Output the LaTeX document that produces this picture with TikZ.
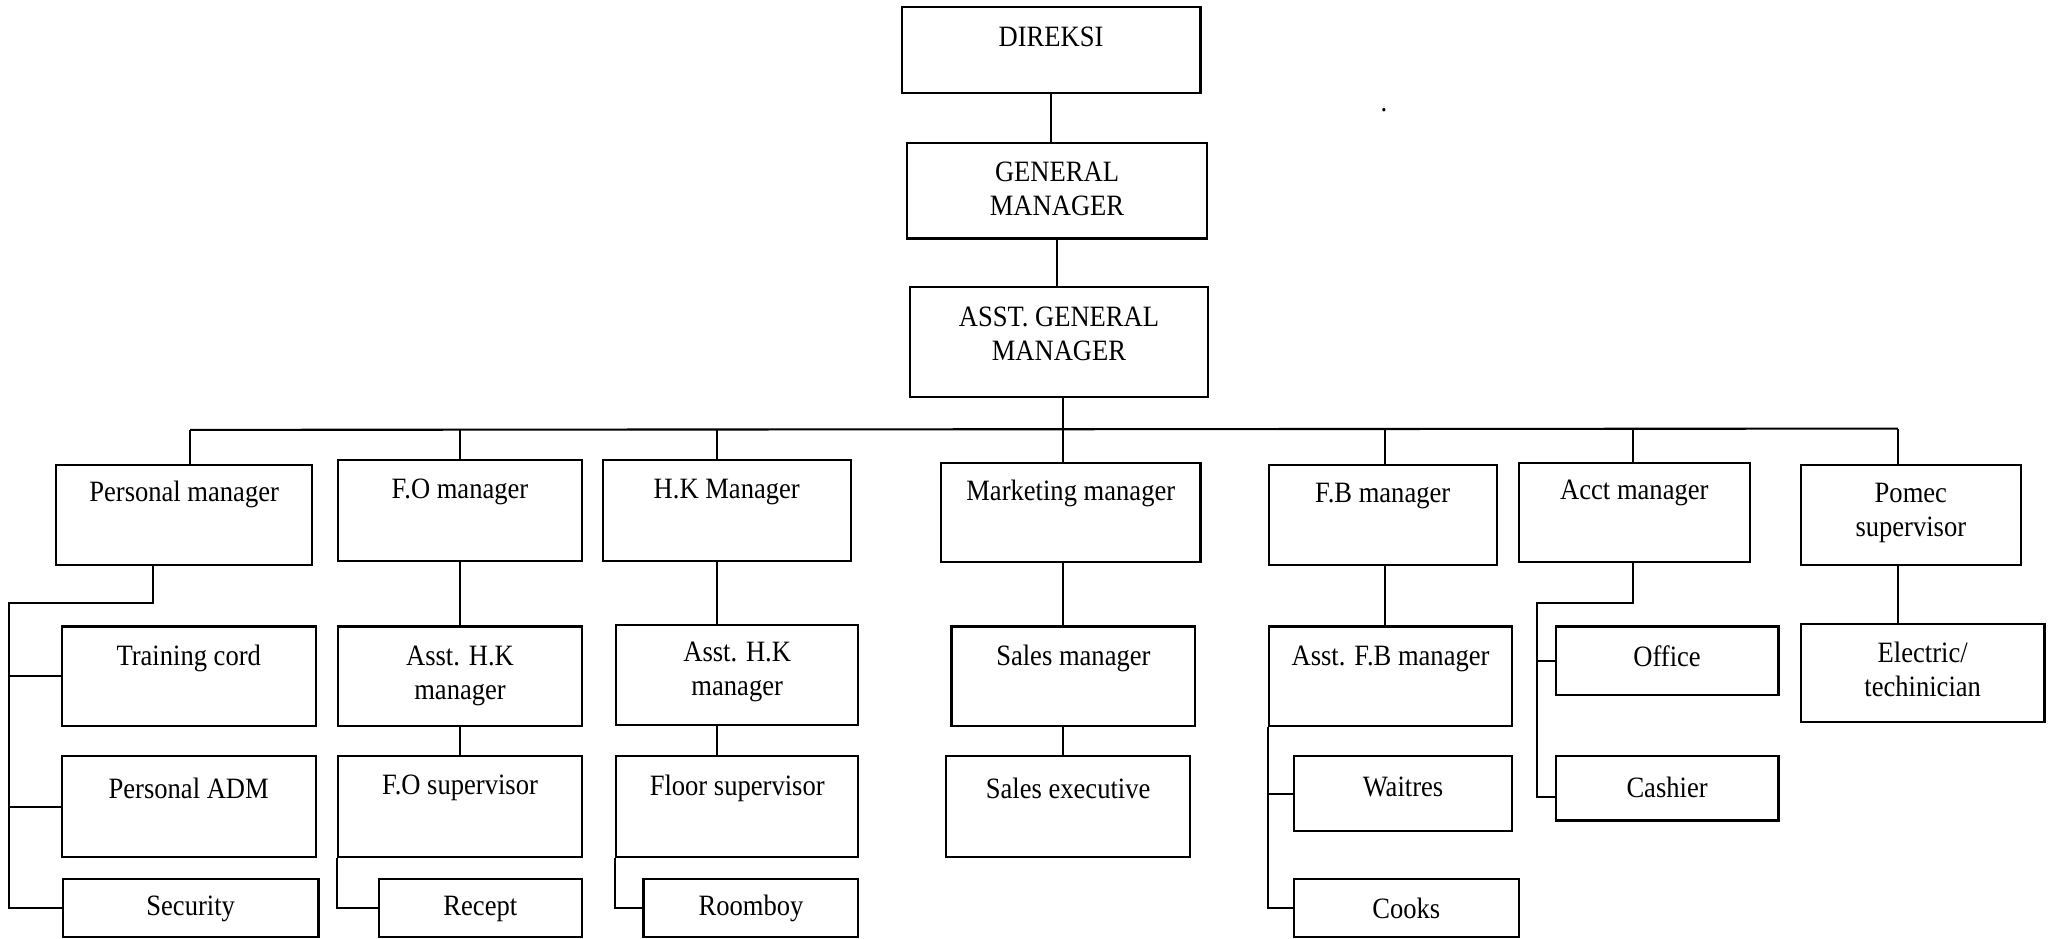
\documentclass[tikz,border=0pt]{standalone}
\usepackage{fontspec}
\setmainfont{Liberation Serif}[FakeStretch=0.9]
\tikzset{
  box/.style={draw, line width=0.6pt, rectangle, inner sep=0pt},
  txt/.style={inner sep=0pt, align=center, yshift=-0.9pt, font=\fontsize{8.4}{9.7}\selectfont},
  con/.style={line width=0.6pt}
}
\newcommand{\orgbox}[7]{%
  \node[box, minimum width={(#4-#2)*0.3729pt}, minimum height={(#5-#3)*0.3729pt}] (#1) at ({(#2+#4)/2},{(#3+#5)/2}) {};
  \node[txt] (#1t) at ({(#2+#4)/2},#6) {#7};}
\begin{document}
\begin{tikzpicture}[x=0.013106cm, y=-0.013106cm]
\useasboundingbox (0,0) rectangle (1568,716);
% boxes
\orgbox{dir}{688}{5}{916}{71}{26}{DIREKSI}
\orgbox{gm}{692}{109}{921}{182}{142}{GENERAL\\MANAGER}
\orgbox{agm}{694}{219}{922}{303}{252}{ASST. GENERAL\\MANAGER}
\orgbox{pm}{43}{355}{238}{431}{375}{Personal manager}
\orgbox{fo}{258}{351}{444}{428}{373}{F.O manager}
\orgbox{hk}{460}{351}{649}{428}{373}{H.K Manager}
\orgbox{mk}{718}{353}{916}{429}{374}{Marketing manager}
\orgbox{fb}{968}{355}{1142}{431}{376}{F.B manager}
\orgbox{ac}{1159}{353}{1335}{429}{374}{Acct manager}
\orgbox{po}{1374}{355}{1542}{431}{389}{Pomec\\supervisor}
\orgbox{tc}{47}{478}{241}{554}{500}{Training cord}
\orgbox{pa}{47}{577}{241}{654}{599}{Personal ADM}
\orgbox{sec}{48}{671}{243}{715}{691}{Security}
\orgbox{ahka}{258}{478}{444}{554}{513}{Asst. H.K\\manager}
\orgbox{fos}{258}{577}{444}{654}{599}{F.O supervisor}
\orgbox{rec}{289}{671}{444}{715}{691}{Recept}
\orgbox{ahkb}{470}{477}{655}{553}{510}{Asst. H.K\\manager}
\orgbox{fls}{470}{577}{655}{654}{599}{Floor supervisor}
\orgbox{rb}{491}{671}{655}{715}{691}{Roomboy}
\orgbox{sm}{726}{478}{912}{554}{500}{Sales manager}
\orgbox{se}{722}{577}{908}{654}{599}{Sales executive}
\orgbox{afb}{968}{478}{1154}{554}{500}{Asst. F.B manager}
\orgbox{wt}{987}{577}{1154}{634}{598}{Waitres}
\orgbox{ck}{987}{671}{1159}{715}{691}{Cooks}
\orgbox{of}{1187}{478}{1357}{530}{498}{Office}
\orgbox{cs}{1187}{577}{1357}{626}{598}{Cashier}
\orgbox{el}{1374}{476}{1560}{551}{508}{Electric/\\techinician}
\node[txt] (dot) at (1056,82) {.};
% top chain
\draw[con] (dir.south) -- (dir.south |- gm.north);
\draw[con] (gm.south) -- (gm.south |- agm.north);
% bus
\coordinate (tPM) at (145,328);
\coordinate (tFO) at (351,328);
\coordinate (tHK) at (547,328);
\coordinate (tMK) at (811,328);
\coordinate (tFB) at (1057,328);
\coordinate (tAC) at (1246,328);
\coordinate (tPO) at (1448,327);
\draw[con] (tPM) -- (tPO);
\draw[con] (agm.south -| tMK) -- (tMK);
\draw[con] (tPM) -- (tPM |- pm.north);
\draw[con] (tFO) -- (tFO |- fo.north);
\draw[con] (tHK) -- (tHK |- hk.north);
\draw[con] (tMK) -- (tMK |- mk.north);
\draw[con] (tFB) -- (tFB |- fb.north);
\draw[con] (tAC) -- (tAC |- ac.north);
\draw[con] (tPO) -- (tPO |- po.north);
% personal manager branch
\coordinate (pmA) at (117,460);
\coordinate (pmL) at (7,460);
\draw[con] (pm.south -| pmA) -- (pmA) -- (pmL) -- (pmL |- sec.west) -- (sec.west);
\draw[con] (pmL |- tc.west) -- (tc.west);
\draw[con] (pmL |- pa.west) -- (pa.west);
% F.O branch
\draw[con] (fo.south -| tFO) -- (ahka.north -| tFO);
\draw[con] (ahka.south -| tFO) -- (fos.north -| tFO);
\draw[con] (fos.south west) -- (fos.south west |- rec.west) -- (rec.west);
% H.K branch
\draw[con] (hk.south -| tHK) -- (ahkb.north -| tHK);
\draw[con] (ahkb.south -| tHK) -- (fls.north -| tHK);
\draw[con] (fls.south west) -- (fls.south west |- rb.west) -- (rb.west);
% marketing branch
\draw[con] (mk.south -| tMK) -- (sm.north -| tMK);
\draw[con] (sm.south -| tMK) -- (se.north -| tMK);
% F.B branch
\draw[con] (fb.south -| tFB) -- (afb.north -| tFB);
\draw[con] (afb.south west) -- (afb.south west |- ck.west) -- (ck.west);
\draw[con] (afb.south west |- wt.west) -- (wt.west);
% acct branch
\coordinate (acA) at (1246,460);
\coordinate (acL) at (1173,460);
\coordinate (csB) at (1187,608);
\draw[con] (ac.south -| acA) -- (acA) -- (acL) -- (acL |- csB) -- (csB);
\draw[con] (acL |- of.west) -- (of.west);
% pomec branch
\draw[con] (po.south -| tPO) -- (el.north -| tPO);
\end{tikzpicture}
\end{document}
